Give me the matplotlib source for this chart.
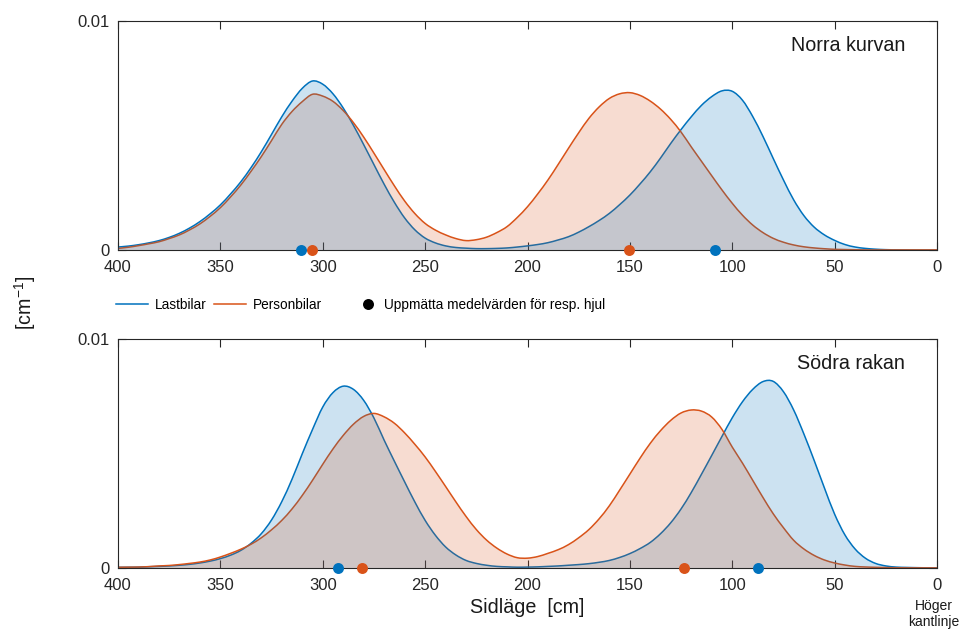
import matplotlib.pyplot as plt
from matplotlib.lines import Line2D
from matplotlib.path import Path
from matplotlib.patches import PathPatch
import numpy as np

plt.rcParams['font.family'] = 'Liberation Sans'
plt.rcParams['mathtext.fontset'] = 'custom'
plt.rcParams['mathtext.rm'] = 'Liberation Sans'
plt.rcParams['mathtext.it'] = 'Liberation Sans:italic'

sidlage = np.arange(400, -1, -5)

# Curve values, in units of 1e-4 cm^-1
norra_last = [1.3, 1.7, 2.3, 3.1, 4.1, 5.5, 7.3, 9.6, 12.4, 15.8,
              19.7, 24.5, 29.8, 36.0, 42.9, 50.5, 58.2, 65.0, 70.6, 73.8,
              72.4, 68.2, 62.0, 54.4, 46.0, 37.3, 28.7, 20.8, 14.0, 8.8,
              5.2, 3.1, 1.8, 1.1, 0.8, 0.6, 0.6, 0.7, 0.9, 1.3,
              1.8, 2.4, 3.2, 4.4, 5.8, 7.8, 10.2, 12.9, 16.0, 19.8,
              24.0, 28.9, 34.2, 40.2, 46.6, 52.6, 58.2, 63.2, 67.0, 69.5,
              69.3, 65.4, 58.3, 49.6, 40.0, 30.6, 21.9, 15.0, 10.0, 6.6,
              4.2, 2.4, 1.3, 0.7, 0.35, 0.15, 0.07, 0.03, 0.01, 0.0,
              0.0]
norra_person = [0.7, 1.2, 1.9, 2.7, 3.6, 5.0, 6.6, 8.8, 11.4, 14.7,
                18.5, 23.2, 28.4, 34.4, 40.8, 47.8, 54.9, 60.5, 64.8, 68.0,
                67.2, 64.9, 60.9, 55.6, 49.3, 42.3, 35.1, 28.0, 21.4, 15.9,
                11.6, 8.7, 6.6, 5.0, 4.1, 4.5, 5.6, 7.6, 10.2, 14.2,
                18.9, 24.5, 30.6, 37.4, 44.4, 51.2, 57.5, 62.5, 66.2, 68.2,
                68.7, 67.5, 65.0, 61.5, 57.0, 51.5, 45.0, 38.7, 32.4, 26.2,
                20.4, 15.2, 10.9, 7.6, 5.1, 3.4, 2.2, 1.4, 0.9, 0.55,
                0.3, 0.2, 0.1, 0.05, 0.02, 0.01, 0.0, 0.0, 0.0, 0.0,
                0.0]
sodra_last = [0.3, 0.35, 0.4, 0.55, 0.7, 0.9, 1.2, 1.6, 2.2, 3.0,
              4.1, 5.6, 7.7, 10.8, 15.0, 21.0, 29.0, 38.8, 49.9, 60.5,
              70.3, 76.6, 79.4, 78.0, 73.2, 65.5, 55.8, 46.6, 37.6, 28.8,
              20.8, 14.3, 9.2, 5.7, 3.3, 2.0, 1.2, 0.7, 0.5, 0.35,
              0.4, 0.5, 0.7, 0.9, 1.2, 1.5, 1.9, 2.5, 3.3, 4.6,
              6.3, 8.5, 11.2, 15.0, 19.8, 25.8, 33.0, 41.0, 49.2, 57.5,
              65.6, 72.6, 78.0, 81.4, 81.5, 77.0, 69.0, 58.5, 47.0, 35.0,
              23.5, 14.5, 8.3, 4.3, 2.0, 0.9, 0.4, 0.25, 0.15, 0.08,
              0.05]
sodra_person = [0.3, 0.35, 0.4, 0.6, 0.9, 1.1, 1.5, 2.0, 2.6, 3.5,
                4.8, 6.4, 8.2, 10.4, 13.2, 16.7, 20.8, 25.8, 31.7, 38.3,
                45.3, 52.0, 57.9, 62.8, 66.2, 67.5, 66.0, 63.2, 59.0, 54.0,
                48.5, 42.2, 35.6, 28.9, 22.5, 16.8, 12.2, 8.7, 6.1, 4.5,
                4.3, 5.0, 6.4, 8.0, 10.2, 13.2, 16.8, 21.5, 27.2, 34.0,
                41.0, 48.0, 54.5, 60.0, 64.5, 67.7, 69.0, 68.5, 65.9, 60.5,
                52.8, 45.8, 38.3, 30.8, 23.7, 17.6, 12.1, 8.3, 5.5, 3.5,
                2.2, 1.3, 0.7, 0.45, 0.3, 0.2, 0.1, 0.05, 0.03, 0.02,
                0.0]

# Measured mean position of each wheel (cm)
norra_last_hjul = [310.6, 108.6]
norra_person_hjul = [305.2, 150.2]
sodra_last_hjul = [292.7, 87.6]
sodra_person_hjul = [280.8, 123.7]

BLUE = '#0072BD'
ORANGE = '#D95319'
AXC = '#262626'


def smooth_path(x, y, closed=False):
    # smooth (cubic bezier) path through the read points
    pts = np.column_stack([x, y])
    ext = np.vstack([pts[0], pts, pts[-1]])
    verts = [pts[0]]
    codes = [Path.MOVETO]
    for i in range(len(pts) - 1):
        p0, p1, p2, p3 = ext[i], ext[i + 1], ext[i + 2], ext[i + 3]
        verts += [p1 + (p2 - p0) / 6, p2 - (p3 - p1) / 6, p2]
        codes += [Path.CURVE4] * 3
    if closed:
        verts += [(x[-1], 0), (x[0], 0), (x[0], 0)]
        codes += [Path.LINETO, Path.LINETO, Path.CLOSEPOLY]
    return Path(verts, codes)


def draw_panel(ax, last, person, last_hjul, person_hjul, name, blue_on_top):
    y_last = np.array(last) * 1e-4
    y_person = np.array(person) * 1e-4
    # lines first, translucent fills over them (as in the original)
    ax.add_patch(PathPatch(smooth_path(sidlage, y_last), fill=False,
                           edgecolor=BLUE, lw=1.1, zorder=2))
    ax.add_patch(PathPatch(smooth_path(sidlage, y_person), fill=False,
                           edgecolor=ORANGE, lw=1.1, zorder=2))
    zb, zo = (4, 3) if blue_on_top else (3, 4)
    ax.add_patch(PathPatch(smooth_path(sidlage, y_last, True), facecolor=BLUE,
                           alpha=0.2, lw=0, zorder=zb))
    ax.add_patch(PathPatch(smooth_path(sidlage, y_person, True), facecolor=ORANGE,
                           alpha=0.2, lw=0, zorder=zo))
    ax.plot(last_hjul, [0, 0], 'o', ms=7.9, mew=0, color=BLUE, clip_on=False, zorder=6)
    ax.plot(person_hjul, [0, 0], 'o', ms=7.9, mew=0, color=ORANGE, clip_on=False, zorder=6)

    ax.set_xlim(400, 0)
    ax.set_ylim(0, 0.01)
    ax.set_xticks(np.arange(400, -1, -50))
    ax.set_yticks([0, 0.01])
    ax.set_yticklabels(['0', '0.01'])
    ax.tick_params(direction='in', length=6, width=0.8, top=True, right=True,
                   labelsize=12, colors=AXC)
    ax.tick_params(axis='x', pad=7)
    ax.tick_params(axis='y', pad=6)
    for sp in ax.spines.values():
        sp.set_color(AXC)
        sp.set_linewidth(0.8)
    ax.text(0.961, 0.868, name, transform=ax.transAxes, ha='right',
            va='baseline', fontsize=14.2, color='#1a1a1a')


fig = plt.figure(figsize=(9.63, 6.3), dpi=100)
ax1 = fig.add_axes([118 / 963, 1 - 250 / 630, 819 / 963, 229 / 630])
ax2 = fig.add_axes([118 / 963, 1 - 568 / 630, 819 / 963, 229 / 630])

draw_panel(ax1, norra_last, norra_person, norra_last_hjul, norra_person_hjul,
           'Norra kurvan', True)
draw_panel(ax2, sodra_last, sodra_person, sodra_last_hjul, sodra_person_hjul,
           'Södra rakan', False)

ax2.set_xlabel('Sidläge  [cm]', fontsize=14.2, labelpad=4, color='#1a1a1a')
fig.text(25 / 963, 1 - 303 / 630, '[cm$^{-1}$]', rotation=90, ha='center',
         va='center', fontsize=14.2, color='#1a1a1a')
fig.text(934 / 963, 1 - 614 / 630, 'Höger\nkantlinje', ha='center', va='center',
         fontsize=10, linespacing=1.2, color='#1a1a1a')

# legend row between the panels
lsize = 9.8
fig.legend(handles=[Line2D([], [], color=BLUE, lw=1.1),
                    Line2D([], [], color=ORANGE, lw=1.1)],
           labels=['Lastbilar', 'Personbilar'], ncol=2, frameon=False,
           loc='center left', bbox_to_anchor=(116 / 963, 1 - 305 / 630),
           borderpad=0, borderaxespad=0, handlelength=23 / lsize,
           handletextpad=5 / lsize, columnspacing=5 / lsize,
           prop={'size': lsize})
fig.legend(handles=[Line2D([], [], ls='none', marker='o', ms=7.9, mew=0, color='k')],
           labels=['Uppmätta medelvärden för resp. hjul'], frameon=False,
           loc='center left', bbox_to_anchor=(360 / 963, 1 - 305 / 630),
           borderpad=0, borderaxespad=0, handlelength=11.5 / lsize,
           handletextpad=5.8 / lsize, prop={'size': lsize})

fig.savefig('out.png', dpi=100)
